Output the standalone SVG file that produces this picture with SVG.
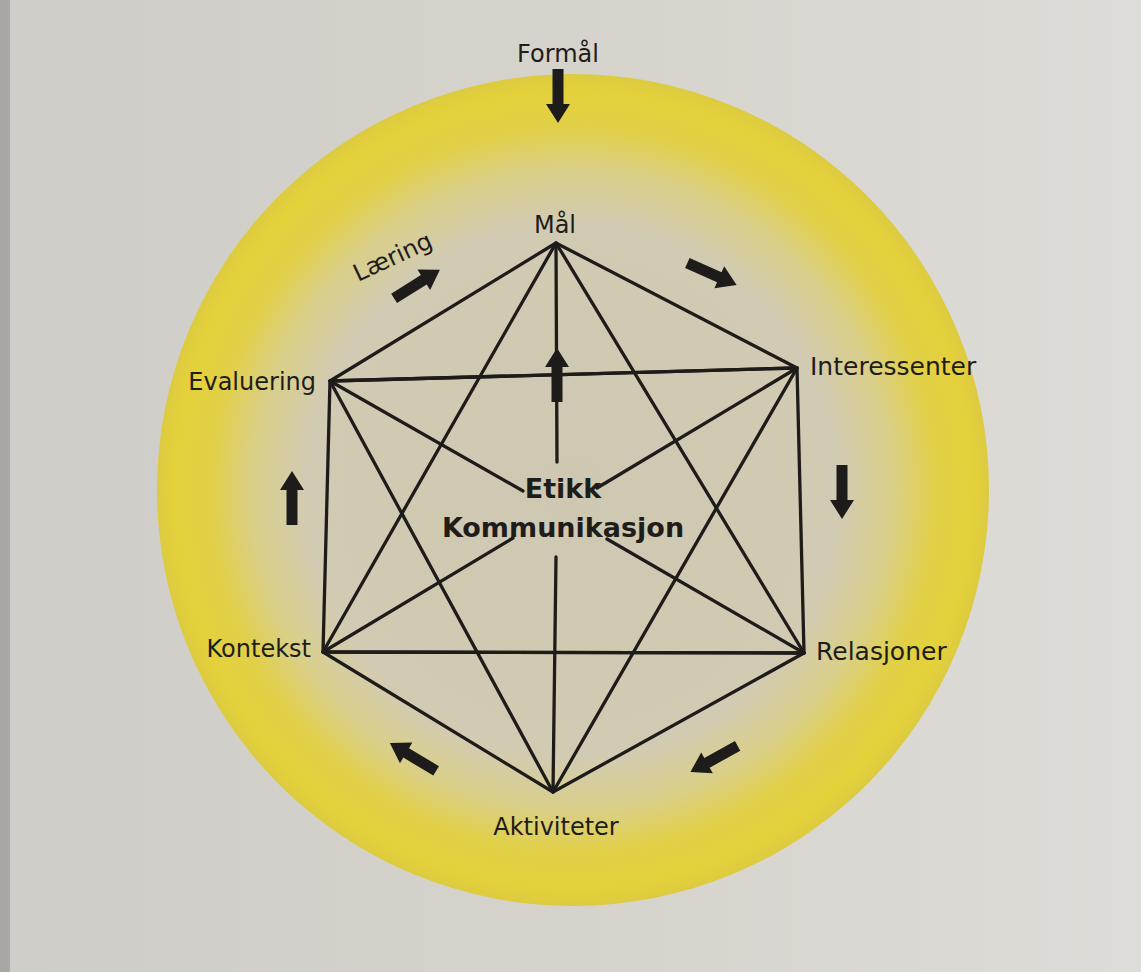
<svg xmlns="http://www.w3.org/2000/svg" width="1141" height="972" viewBox="0 0 1141 972">
  <defs>
    <radialGradient id="ring" cx="573" cy="490" r="416" gradientUnits="userSpaceOnUse">
      <stop offset="0" stop-color="#cec7b2"/>
      <stop offset="0.64" stop-color="#d2cbb3"/>
      <stop offset="0.77" stop-color="#dacf88"/>
      <stop offset="0.87" stop-color="#e1d048"/>
      <stop offset="0.96" stop-color="#e4d13a"/>
      <stop offset="1" stop-color="#dccb40"/>
    </radialGradient>
    <linearGradient id="page" x1="0" y1="0" x2="1" y2="0">
      <stop offset="0" stop-color="#cfcdc8"/>
      <stop offset="0.5" stop-color="#d6d3cc"/>
      <stop offset="1" stop-color="#dedcd8"/>
    </linearGradient>
    <path id="arr" d="M-5.5,27 L-5.5,-8 L-12,-8 L0,-27 L12,-8 L5.5,-8 L5.5,27 Z"/>
    <style>
      .lbl { font-family: "DejaVu Sans", "Liberation Sans", sans-serif; font-size: 24px; fill: #1f1d1a; }
      .ctr { font-family: "DejaVu Sans", "Liberation Sans", sans-serif; font-size: 27px; font-weight: bold; fill: #1f1d1a; }
      .ln { stroke: #1e1c1a; stroke-width: 3.3; fill: none; stroke-linecap: round; stroke-linejoin: round; }
      .ar { fill: #1e1c1a; }
    </style>
  </defs>

  <rect x="0" y="0" width="1141" height="972" fill="url(#page)"/>
  <rect x="0" y="0" width="10" height="972" fill="#a9a7a3"/>
  <circle cx="573" cy="490" r="416" fill="url(#ring)"/>

  <g id="connectors">
    <polygon class="ln" points="556,243 797,368 804,653 553,792 323,652 330,381"/>
    <polygon class="ln" points="556,243 804,653 323,652"/>
    <polygon class="ln" points="797,368 553,792 330,381"/>
    <line class="ln" x1="330" y1="381" x2="797" y2="368"/>
    <line class="ln" x1="323" y1="652" x2="804" y2="653"/>
    <line class="ln" x1="556" y1="243" x2="557" y2="462"/>
    <line class="ln" x1="556" y1="557" x2="553" y2="792"/>
    <line class="ln" x1="330" y1="381" x2="523" y2="491"/>
    <line class="ln" x1="607" y1="539" x2="804" y2="653"/>
    <line class="ln" x1="797" y1="368" x2="597" y2="488"/>
    <line class="ln" x1="513" y1="538" x2="323" y2="652"/>
  </g>

  <g id="arrows">
    <use href="#arr" class="ar" transform="translate(558,96) rotate(180)"/>
    <use href="#arr" class="ar" transform="translate(557,375)"/>
    <use href="#arr" class="ar" transform="translate(712,274) rotate(114)"/>
    <use href="#arr" class="ar" transform="translate(842,492) rotate(180)"/>
    <use href="#arr" class="ar" transform="translate(714,759) rotate(241)"/>
    <use href="#arr" class="ar" transform="translate(413,757) rotate(301)"/>
    <use href="#arr" class="ar" transform="translate(292,498)"/>
    <use href="#arr" class="ar" transform="translate(417,284) rotate(58)"/>
  </g>

  <g id="node-formal"><text class="lbl" x="558" y="62" text-anchor="middle">Formål</text></g>
  <g id="node-mal"><text class="lbl" x="555" y="233" text-anchor="middle">Mål</text></g>
  <g id="node-interessenter"><text class="lbl" x="810" y="375" style="font-size:25px">Interessenter</text></g>
  <g id="node-relasjoner"><text class="lbl" x="816" y="660" style="font-size:25px">Relasjoner</text></g>
  <g id="node-aktiviteter"><text class="lbl" x="556" y="835" text-anchor="middle">Aktiviteter</text></g>
  <g id="node-kontekst"><text class="lbl" x="311" y="657" text-anchor="end">Kontekst</text></g>
  <g id="node-evaluering"><text class="lbl" x="316" y="390" text-anchor="end">Evaluering</text></g>
  <g id="node-laering"><text class="lbl" x="358" y="282" transform="rotate(-25 358 282)">Læring</text></g>
  <g id="node-center">
    <text class="ctr" x="563" y="498" text-anchor="middle">Etikk</text>
    <text class="ctr" x="563" y="537" text-anchor="middle">Kommunikasjon</text>
  </g>
</svg>
